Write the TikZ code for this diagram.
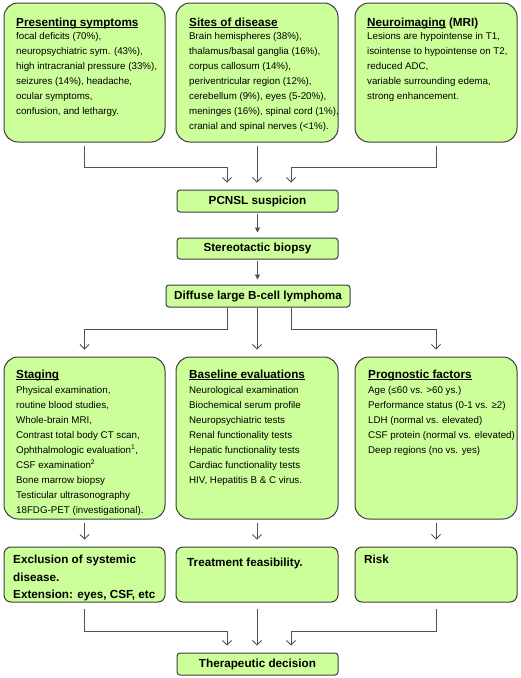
\documentclass[tikz,border=0pt]{standalone}
\usepackage{fontspec}
\setmainfont{Liberation Sans}
\usetikzlibrary{arrows.meta}
\definecolor{boxfill}{HTML}{CCFF99}
\definecolor{boxline}{HTML}{3C3C3C}
\definecolor{arrline}{HTML}{505050}
\newcommand\myul[1]{\leavevmode\setbox0=\hbox{#1}\rlap{\rule[-1.7pt]{\wd0}{0.9pt}}\box0\relax}
\newcommand\bodyfont{\fontsize{9.75}{15}\selectfont\mdseries}
\newcommand\headfont{\fontsize{11.7}{14}\selectfont\bfseries}
\newcommand\botfont{\fontsize{11.7}{17.5}\selectfont\bfseries}
\begin{document}
\begin{tikzpicture}[x=1pt,y=-1pt,
  bigbox/.style={draw=boxline,fill=boxfill,line width=1pt,rounded corners=14pt,inner sep=0pt},
  midbox/.style={draw=boxline,fill=boxfill,line width=1pt,rounded corners=7pt,inner sep=0pt},
  smallbox/.style={draw=boxline,fill=boxfill,line width=1pt,rounded corners=3pt,inner sep=0pt,font=\headfont},
  txt/.style={anchor=base west,inner sep=0pt},
  link/.style={draw=arrline,line width=0.8pt,-{Straight Barb[length=4.5pt,width=9pt]},shorten <=3pt,shorten >=7pt},
  flink/.style={draw=arrline,line width=0.8pt,-{Triangle[length=5pt,width=5pt]},shorten <=1pt,shorten >=5pt}
]
\path[fill=white] (0,0) rectangle (520,678);
\useasboundingbox (0,0) rectangle (520,678);

% top boxes
\node[bigbox,minimum width=161pt,minimum height=139pt] (b1) at (84.5,72.5) {};
\node[bigbox,minimum width=162pt,minimum height=139pt] (b2) at (257,72.5) {};
\node[bigbox,minimum width=162pt,minimum height=139pt] (b3) at (436,72.5) {};

\node[txt] (t1) at (16,26) {\parbox[t]{152pt}{\raggedright\headfont\myul{Presenting symptoms}\par\vspace{-1.5pt}\bodyfont
focal deficits (70\%),\\
neuropsychiatric sym. (43\%),\\
high intracranial pressure (33\%),\\
seizures (14\%), headache,\\
ocular symptoms,\\
confusion, and lethargy.}};

\node[txt] (t2) at (189,26) {\parbox[t]{152pt}{\raggedright\headfont\myul{Sites of disease}\par\vspace{-1.5pt}\bodyfont
Brain hemispheres (38\%),\\
thalamus/basal ganglia (16\%),\\
corpus callosum (14\%),\\
periventricular region (12\%),\\
cerebellum (9\%), eyes (5-20\%),\\
meninges (16\%), spinal cord (1\%),\\
cranial and spinal nerves (<1\%).}};

\node[txt] (t3) at (367,26) {\parbox[t]{148pt}{\raggedright\headfont\myul{Neuroimaging} (MRI)\par\vspace{-1.5pt}\bodyfont
Lesions are hypointense in T1,\\
isointense to hypointense on T2,\\
reduced ADC,\\
variable surrounding edema,\\
strong enhancement.}};

% central chain
\node[smallbox,minimum width=161pt,minimum height=22pt] (p) at (257.5,201) {PCNSL suspicion};
\node[smallbox,minimum width=161pt,minimum height=21pt] (bio) at (257.5,248.5) {Stereotactic biopsy};
\node[smallbox,minimum width=184pt,minimum height=22pt] (dl) at (258,296) {Diffuse large B-cell lymphoma};

% middle boxes
\node[bigbox,minimum width=161pt,minimum height=162pt] (m1) at (84.5,438) {};
\node[bigbox,minimum width=162pt,minimum height=162pt] (m2) at (257,438) {};
\node[bigbox,minimum width=162pt,minimum height=162pt] (m3) at (436,438) {};

\node[txt] (s1) at (16,378) {\parbox[t]{148pt}{\raggedright\headfont\myul{Staging}\par\bodyfont
Physical examination,\\
routine blood studies,\\
Whole-brain MRI,\\
Contrast total body CT scan,\\
Ophthalmologic evaluation\textsuperscript{1},\\
CSF examination\textsuperscript{2}\\
Bone marrow biopsy\\
Testicular ultrasonography\\
18FDG-PET (investigational).}};

\node[txt] (s2) at (189,378) {\parbox[t]{148pt}{\raggedright\headfont\myul{Baseline evaluations}\par\bodyfont
Neurological examination\\
Biochemical serum profile\\
Neuropsychiatric tests\\
Renal functionality tests\\
Hepatic functionality tests\\
Cardiac functionality tests\\
HIV, Hepatitis B \& C virus.}};

\node[txt] (s3) at (368,378) {\parbox[t]{148pt}{\raggedright\headfont\myul{Prognostic factors}\par\bodyfont
Age (≤60 vs. >60 ys.)\\
Performance status (0-1 vs. ≥2)\\
LDH (normal vs. elevated)\\
CSF protein (normal vs. elevated)\\
Deep regions (no vs. yes)}};

% bottom boxes
\node[midbox,minimum width=161pt,minimum height=55pt] (c1) at (84.5,574.5) {};
\node[midbox,minimum width=162pt,minimum height=55pt] (c2) at (257,574.5) {};
\node[midbox,minimum width=162pt,minimum height=55pt] (c3) at (436,574.5) {};

\node[txt] (u1) at (13,563.5) {\parbox[t]{150pt}{\raggedright\botfont
Exclusion of systemic\\
disease.\\
Extension: eyes, CSF, etc}};
\node[txt] (u2) at (187,566.5) {\parbox[t]{150pt}{\raggedright\botfont Treatment feasibility.}};
\node[txt] (u3) at (364,563.5) {\parbox[t]{150pt}{\raggedright\botfont Risk}};

\node[smallbox,minimum width=161pt,minimum height=22pt] (t) at (257.5,664) {Therapeutic decision};

% junction coordinates
\coordinate (j1) at (227,167);
\coordinate (j3) at (291,167);
\coordinate (k1) at (227,329);
\coordinate (k3) at (291,329);
\coordinate (q1) at (227,631);
\coordinate (q3) at (291,631);

% connectors
\draw[link] (b1.south) |- (j1) -- (j1 |- p.north);
\draw[link] (b2.south) -- (b2.south |- p.north);
\draw[link] (b3.south) |- (j3) -- (j3 |- p.north);
\draw[flink] (p.south -| bio.north) -- (bio.north);
\draw[flink] (bio.south) -- (bio.south |- dl.north);
\draw[link,shorten <=0pt] (k1 |- dl.south) -- (k1) -| (m1.north);
\draw[link,shorten <=0pt] (m2.north |- dl.south) -- (m2.north);
\draw[link,shorten <=0pt] (k3 |- dl.south) -- (k3) -| (m3.north);
\draw[link] (m1.south) -- (c1.north);
\draw[link] (m2.south) -- (c2.north);
\draw[link] (m3.south) -- (c3.north);
\draw[link,shorten <=6pt] (c1.south) |- (q1) -- (q1 |- t.north);
\draw[link,shorten <=6pt] (c2.south) -- (c2.south |- t.north);
\draw[link,shorten <=6pt] (c3.south) |- (q3) -- (q3 |- t.north);
\end{tikzpicture}
\end{document}
